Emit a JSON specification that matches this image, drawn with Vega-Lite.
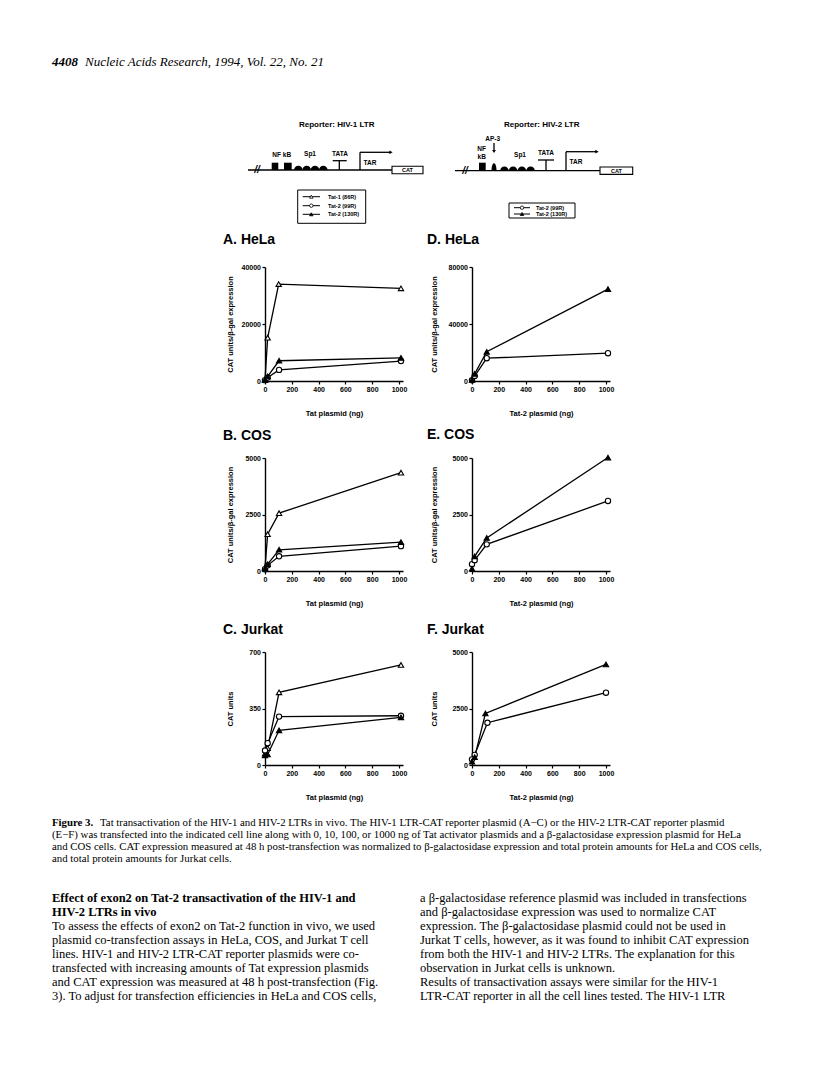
{
 "$schema": "https://vega.github.io/schema/vega-lite/v6.json",
 "background": "white",
 "padding": {"left": 52, "top": 0, "right": 0, "bottom": 0},
 "bounds": "flush",
 "spacing": 0,
 "config": {
  "view": {"stroke": null},
  "axis": {"grid": false, "domainColor": "black", "domainWidth": 1.4, "tickColor": "black", "tickWidth": 1.2, "tickSize": 3,
   "labelFont": "Liberation Sans", "labelFontWeight": "bold", "labelFontSize": 7, "labelColor": "black", "labelPadding": 1.5,
   "labelFlush": false, "labelOverlap": false, "format": "d",
   "titleFont": "Liberation Sans", "titleFontWeight": "bold", "titleFontSize": 7.5, "titleColor": "black"},
  "title": {"font": "Liberation Sans", "fontWeight": "bold", "fontSize": 14, "color": "black", "anchor": "start", "frame": "group", "baseline": "alphabetic"}
 },
 "datasets": {
  "pts": [
   {"panel":"A","series":"Tat-1 (86R)","ng":0,"val":500},{"panel":"A","series":"Tat-1 (86R)","ng":20,"val":15200},{"panel":"A","series":"Tat-1 (86R)","ng":102,"val":34000},{"panel":"A","series":"Tat-1 (86R)","ng":1015,"val":32500},
   {"panel":"A","series":"Tat-2 (99R)","ng":0,"val":300},{"panel":"A","series":"Tat-2 (99R)","ng":20,"val":1200},{"panel":"A","series":"Tat-2 (99R)","ng":105,"val":3900},{"panel":"A","series":"Tat-2 (99R)","ng":1015,"val":7000},
   {"panel":"A","series":"Tat-2 (130R)","ng":0,"val":400},{"panel":"A","series":"Tat-2 (130R)","ng":20,"val":1600},{"panel":"A","series":"Tat-2 (130R)","ng":105,"val":7100},{"panel":"A","series":"Tat-2 (130R)","ng":1015,"val":8100},
   {"panel":"B","series":"Tat-1 (86R)","ng":0,"val":150},{"panel":"B","series":"Tat-1 (86R)","ng":20,"val":1630},{"panel":"B","series":"Tat-1 (86R)","ng":105,"val":2560},{"panel":"B","series":"Tat-1 (86R)","ng":1015,"val":4350},
   {"panel":"B","series":"Tat-2 (99R)","ng":0,"val":80},{"panel":"B","series":"Tat-2 (99R)","ng":20,"val":250},{"panel":"B","series":"Tat-2 (99R)","ng":105,"val":650},{"panel":"B","series":"Tat-2 (99R)","ng":1015,"val":1100},
   {"panel":"B","series":"Tat-2 (130R)","ng":0,"val":100},{"panel":"B","series":"Tat-2 (130R)","ng":20,"val":300},{"panel":"B","series":"Tat-2 (130R)","ng":105,"val":940},{"panel":"B","series":"Tat-2 (130R)","ng":1015,"val":1280},
   {"panel":"C","series":"Tat-1 (86R)","ng":0,"val":70},{"panel":"C","series":"Tat-1 (86R)","ng":20,"val":105},{"panel":"C","series":"Tat-1 (86R)","ng":105,"val":450},{"panel":"C","series":"Tat-1 (86R)","ng":1015,"val":620},
   {"panel":"C","series":"Tat-2 (99R)","ng":0,"val":90},{"panel":"C","series":"Tat-2 (99R)","ng":20,"val":135},{"panel":"C","series":"Tat-2 (99R)","ng":105,"val":300},{"panel":"C","series":"Tat-2 (99R)","ng":1015,"val":305},
   {"panel":"C","series":"Tat-2 (130R)","ng":0,"val":60},{"panel":"C","series":"Tat-2 (130R)","ng":20,"val":65},{"panel":"C","series":"Tat-2 (130R)","ng":105,"val":215},{"panel":"C","series":"Tat-2 (130R)","ng":1015,"val":295},
   {"panel":"D","series":"Tat-2 (99R)","ng":0,"val":500},{"panel":"D","series":"Tat-2 (99R)","ng":20,"val":3500},{"panel":"D","series":"Tat-2 (99R)","ng":110,"val":16000},{"panel":"D","series":"Tat-2 (99R)","ng":1015,"val":19500},
   {"panel":"D","series":"Tat-2 (130R)","ng":0,"val":800},{"panel":"D","series":"Tat-2 (130R)","ng":20,"val":5000},{"panel":"D","series":"Tat-2 (130R)","ng":110,"val":20500},{"panel":"D","series":"Tat-2 (130R)","ng":1015,"val":64500},
   {"panel":"E","series":"Tat-2 (99R)","ng":0,"val":300},{"panel":"E","series":"Tat-2 (99R)","ng":20,"val":480},{"panel":"E","series":"Tat-2 (99R)","ng":110,"val":1180},{"panel":"E","series":"Tat-2 (99R)","ng":1015,"val":3100},
   {"panel":"E","series":"Tat-2 (130R)","ng":0,"val":100},{"panel":"E","series":"Tat-2 (130R)","ng":20,"val":650},{"panel":"E","series":"Tat-2 (130R)","ng":110,"val":1460},{"panel":"E","series":"Tat-2 (130R)","ng":1015,"val":5020},
   {"panel":"F","series":"Tat-2 (99R)","ng":0,"val":250},{"panel":"F","series":"Tat-2 (99R)","ng":20,"val":450},{"panel":"F","series":"Tat-2 (99R)","ng":115,"val":1870},{"panel":"F","series":"Tat-2 (99R)","ng":1000,"val":3200},
   {"panel":"F","series":"Tat-2 (130R)","ng":0,"val":150},{"panel":"F","series":"Tat-2 (130R)","ng":20,"val":350},{"panel":"F","series":"Tat-2 (130R)","ng":100,"val":2280},{"panel":"F","series":"Tat-2 (130R)","ng":1000,"val":4450}
  ],
  "topText": [
   {"kind":"page","x":0,"y":62,"text":"4408"},
   {"kind":"journal","x":33,"y":62,"text":"Nucleic Acids Research, 1994, Vol. 22, No. 21"},
   {"kind":"head","x":284.7,"y":125,"text":"Reporter:  HIV-1  LTR"},
   {"kind":"head","x":489.7,"y":125,"text":"Reporter:  HIV-2  LTR"},
   {"kind":"el","x":229.7,"y":155,"text":"NF kB"},
   {"kind":"el","x":258,"y":154,"text":"Sp1"},
   {"kind":"el","x":288,"y":154,"text":"TATA"},
   {"kind":"el","x":318,"y":162.7,"text":"TAR"},
   {"kind":"el","x":429.7,"y":149,"text":"NF"},
   {"kind":"el","x":429.7,"y":156.7,"text":"kB"},
   {"kind":"el","x":440.7,"y":139.3,"text":"AP-3"},
   {"kind":"el","x":468,"y":155,"text":"Sp1"},
   {"kind":"el","x":494,"y":152.7,"text":"TATA"},
   {"kind":"el","x":524,"y":161.7,"text":"TAR"},
   {"kind":"brk","x":205,"y":170,"text":"//"},
   {"kind":"brk","x":413,"y":170.7,"text":"//"},
   {"kind":"cat","x":355.5,"y":170,"text":"CAT"},
   {"kind":"cat","x":564.4,"y":170.7,"text":"CAT"}
  ],
  "topRules": [
   {"x":196,"x2":340,"y":170,"y2":170},
   {"x":287.3,"x2":287.3,"y":160.7,"y2":170},
   {"x":280.7,"x2":294.7,"y":160.7,"y2":160.7},
   {"x":308,"x2":308,"y":152.3,"y2":170},
   {"x":308,"x2":338,"y":152.3,"y2":152.3},
   {"x":403,"x2":548,"y":170.7,"y2":170.7},
   {"x":494,"x2":494,"y":160,"y2":170.7},
   {"x":486,"x2":502,"y":160,"y2":160},
   {"x":514,"x2":514,"y":151.7,"y2":170.7},
   {"x":514,"x2":544,"y":151.7,"y2":151.7},
   {"x":442,"x2":442,"y":143,"y2":150}
  ],
  "topBoxes": [
   {"kind":"nfkb","x":219.7,"x2":226.3,"y":162.7,"y2":170},
   {"kind":"nfkb","x":232,"x2":239.7,"y":162.7,"y2":170},
   {"kind":"nfkb","x":427,"x2":433.7,"y":162.7,"y2":170.7},
   {"kind":"cat","x":340,"x2":371,"y":166.3,"y2":173.7},
   {"kind":"cat","x":548,"x2":580.7,"y":167,"y2":174.4},
   {"kind":"legend","x":245.7,"x2":313.7,"y":190,"y2":223.3},
   {"kind":"legend","x":457,"x2":523,"y":203,"y2":218}
  ],
  "bumps": [
   {"kind":"sp1","x":246.3,"y":170},{"kind":"sp1","x":254.7,"y":170},{"kind":"sp1","x":263,"y":170},{"kind":"sp1","x":271.3,"y":170},
   {"kind":"sp1","x":452.4,"y":170.7},{"kind":"sp1","x":461.1,"y":170.7},{"kind":"sp1","x":469.9,"y":170.7},{"kind":"sp1","x":478.6,"y":170.7},
   {"kind":"ap3","x":442,"y":170.7}
  ],
  "arrows": [
   {"dir":"right","x":339,"y":152.3},{"dir":"right","x":545,"y":151.7},{"dir":"down","x":442,"y":151.5}
  ],
  "leg": [
   {"series":"Tat-1 (86R)","x":250.7,"x2":268,"xs":259.3,"xt":276,"y":196.7},
   {"series":"Tat-2 (99R)","x":250.7,"x2":268,"xs":259.3,"xt":276,"y":205.7},
   {"series":"Tat-2 (130R)","x":250.7,"x2":268,"xs":259.3,"xt":276,"y":214.3},
   {"series":"Tat-2 (99R)","x":462,"x2":478,"xs":470,"xt":484,"y":207.7},
   {"series":"Tat-2 (130R)","x":462,"x2":478,"xs":470,"xt":484,"y":214}
  ],
  "caption": [
   {"col":"left","line":1,"part":"label","text":"Figure 3."},
   {"col":"left","line":1,"part":"first","text":"Tat transactivation of the HIV-1 and HIV-2 LTRs in vivo. The HIV-1 LTR-CAT reporter plasmid (A−C) or the HIV-2 LTR-CAT reporter plasmid"},
   {"col":"left","line":2,"part":"cont","text":"(E−F) was transfected into the indicated cell line along with 0, 10, 100, or 1000 ng of Tat activator plasmids and a β-galactosidase expression plasmid for HeLa"},
   {"col":"left","line":3,"part":"cont","text":"and COS cells. CAT expression measured at 48 h post-transfection was normalized to β-galactosidase expression and total protein amounts for HeLa and COS cells,"},
   {"col":"left","line":4,"part":"cont","text":"and total protein amounts for Jurkat cells."}
  ],
  "body": [
   {"col":"left","line":1,"kind":"head","text":"Effect of exon2 on Tat-2 transactivation of the HIV-1 and"},
   {"col":"left","line":2,"kind":"head","text":"HIV-2 LTRs in vivo"},
   {"col":"left","line":3,"kind":"body","text":"To assess the effects of exon2 on Tat-2 function in vivo, we used"},
   {"col":"left","line":4,"kind":"body","text":"plasmid co-transfection assays in HeLa, COS, and Jurkat T cell"},
   {"col":"left","line":5,"kind":"body","text":"lines. HIV-1 and HIV-2 LTR-CAT reporter plasmids were co-"},
   {"col":"left","line":6,"kind":"body","text":"transfected with increasing amounts of Tat expression plasmids"},
   {"col":"left","line":7,"kind":"body","text":"and CAT expression was measured at 48 h post-transfection (Fig."},
   {"col":"left","line":8,"kind":"body","text":"3). To adjust for transfection efficiencies in HeLa and COS cells,"},
   {"col":"right","line":1,"kind":"body","text":"a β-galactosidase reference plasmid was included in transfections"},
   {"col":"right","line":2,"kind":"body","text":"and β-galactosidase expression was used to normalize CAT"},
   {"col":"right","line":3,"kind":"body","text":"expression. The β-galactosidase plasmid could not be used in"},
   {"col":"right","line":4,"kind":"body","text":"Jurkat T cells, however, as it was found to inhibit CAT expression"},
   {"col":"right","line":5,"kind":"body","text":"from both the HIV-1 and HIV-2 LTRs. The explanation for this"},
   {"col":"right","line":6,"kind":"body","text":"observation in Jurkat cells is unknown."},
   {"col":"right","line":7,"kind":"body","text":"\u2003Results of transactivation assays were similar for the HIV-1"},
   {"col":"right","line":8,"kind":"body","text":"LTR-CAT reporter in all the cell lines tested. The HIV-1 LTR"}
  ]
 },
 "vconcat": [
  {
   "width": 712, "height": 267,
   "encoding": {
    "x": {"field": "x", "type": "quantitative", "scale": {"domain": [0, 712], "nice": false, "zero": false}, "axis": null},
    "y": {"field": "y", "type": "quantitative", "scale": {"domain": [0, 267], "nice": false, "zero": false, "reverse": true}, "axis": null}
   },
   "layer": [
    {"data": {"name": "topText"}, "transform": [{"filter": "datum.kind === 'page'"}],
     "mark": {"type": "text", "align": "left", "baseline": "middle", "font": "Liberation Serif", "fontSize": 13, "fontWeight": "bold", "fontStyle": "italic", "color": "black"},
     "encoding": {"text": {"field": "text"}}},
    {"data": {"name": "topText"}, "transform": [{"filter": "datum.kind === 'journal'"}],
     "mark": {"type": "text", "align": "left", "baseline": "middle", "font": "Liberation Serif", "fontSize": 13, "fontStyle": "italic", "color": "black"},
     "encoding": {"text": {"field": "text"}}},
    {"data": {"name": "topText"}, "transform": [{"filter": "datum.kind === 'head'"}],
     "mark": {"type": "text", "align": "center", "baseline": "middle", "font": "Liberation Sans", "fontSize": 8, "fontWeight": "bold", "color": "black"},
     "encoding": {"text": {"field": "text"}}},
    {"data": {"name": "topText"}, "transform": [{"filter": "datum.kind === 'el'"}],
     "mark": {"type": "text", "align": "center", "baseline": "middle", "font": "Liberation Sans", "fontSize": 6.5, "fontWeight": "bold", "color": "black"},
     "encoding": {"text": {"field": "text"}}},
    {"data": {"name": "topText"}, "transform": [{"filter": "datum.kind === 'brk'"}],
     "mark": {"type": "text", "align": "center", "baseline": "middle", "font": "Liberation Sans", "fontSize": 10, "fontWeight": "bold", "fontStyle": "italic", "color": "black"},
     "encoding": {"text": {"field": "text"}}},
    {"data": {"name": "topRules"},
     "mark": {"type": "rule", "color": "black", "strokeWidth": 1.3},
     "encoding": {"x2": {"field": "x2"}, "y2": {"field": "y2"}}},
    {"data": {"name": "topBoxes"}, "transform": [{"filter": "datum.kind === 'nfkb'"}],
     "mark": {"type": "rect", "color": "black"},
     "encoding": {"x2": {"field": "x2"}, "y2": {"field": "y2"}}},
    {"data": {"name": "topBoxes"}, "transform": [{"filter": "datum.kind === 'cat'"}],
     "mark": {"type": "rect", "fill": "white", "stroke": "black", "strokeWidth": 1.1},
     "encoding": {"x2": {"field": "x2"}, "y2": {"field": "y2"}}},
    {"data": {"name": "topBoxes"}, "transform": [{"filter": "datum.kind === 'legend'"}],
     "mark": {"type": "rect", "fill": "white", "fillOpacity": 0, "stroke": "black", "strokeWidth": 1},
     "encoding": {"x2": {"field": "x2"}, "y2": {"field": "y2"}}},
    {"data": {"name": "topText"}, "transform": [{"filter": "datum.kind === 'cat'"}],
     "mark": {"type": "text", "align": "center", "baseline": "middle", "font": "Liberation Sans", "fontSize": 5.5, "fontWeight": "bold", "color": "black"},
     "encoding": {"text": {"field": "text"}}},
    {"data": {"name": "bumps"}, "transform": [{"filter": "datum.kind === 'sp1'"}],
     "mark": {"type": "point", "filled": true, "color": "black", "opacity": 1, "size": 72, "shape": "M -1 0 A 1 1 0 0 1 1 0 Z"}},
    {"data": {"name": "bumps"}, "transform": [{"filter": "datum.kind === 'ap3'"}],
     "mark": {"type": "point", "filled": true, "color": "black", "opacity": 1, "size": 25, "shape": "M -1 0 C -1 -4 1 -4 1 0 Z"}},
    {"data": {"name": "arrows"}, "transform": [{"filter": "datum.dir === 'right'"}],
     "mark": {"type": "point", "filled": true, "color": "black", "opacity": 1, "size": 14, "shape": "triangle-right"}},
    {"data": {"name": "arrows"}, "transform": [{"filter": "datum.dir === 'down'"}],
     "mark": {"type": "point", "filled": true, "color": "black", "opacity": 1, "size": 14, "shape": "triangle-down"}},
    {"data": {"name": "leg"},
     "mark": {"type": "rule", "color": "black", "strokeWidth": 1},
     "encoding": {"x2": {"field": "x2"}}},
    {"data": {"name": "leg"},
     "mark": {"type": "point", "filled": true, "stroke": "black", "strokeWidth": 0.8, "size": 12, "opacity": 1},
     "encoding": {
      "x": {"field": "xs", "type": "quantitative", "scale": {"domain": [0, 712], "nice": false, "zero": false}, "axis": null},
      "shape": {"field": "series", "type": "nominal", "scale": {"domain": ["Tat-1 (86R)", "Tat-2 (99R)", "Tat-2 (130R)"], "range": ["triangle-up", "circle", "triangle-up"]}, "legend": null},
      "fill": {"field": "series", "type": "nominal", "scale": {"domain": ["Tat-1 (86R)", "Tat-2 (99R)", "Tat-2 (130R)"], "range": ["white", "white", "black"]}, "legend": null}}},
    {"data": {"name": "leg"},
     "mark": {"type": "text", "align": "left", "baseline": "middle", "font": "Liberation Sans", "fontSize": 5.5, "fontWeight": "bold", "color": "black"},
     "encoding": {
      "x": {"field": "xt", "type": "quantitative", "scale": {"domain": [0, 712], "nice": false, "zero": false}, "axis": null},
      "text": {"field": "series"}}}
   ]
  },
  {
   "hconcat": [
    {"width": 213, "height": 114, "data": {"values": [{}]}, "mark": "text", "encoding": {"text": {"value": ""}}},
    {
     "width": 138, "height": 114, "data": {"name": "pts"}, "transform": [{"filter": "datum.panel === 'A'"}],
     "title": {"text": "A. HeLa", "dx": -42, "offset": 16},
     "encoding": {
      "x": {"field": "ng", "type": "quantitative", "scale": {"domain": [0, 1030], "nice": false, "zero": false}, "axis": {"values": [0, 200, 400, 600, 800, 1000], "title": "Tat plasmid (ng)", "titleY": 32, "titleBaseline": "middle"}},
      "y": {"field": "val", "type": "quantitative", "scale": {"domain": [0, 40000], "nice": false}, "axis": {"values": [0, 20000, 40000], "title": "CAT units/β-gal expression", "titleX": -35, "titleY": 57, "titleBaseline": "middle", "titleAngle": -90}}
     },
     "layer": [
      {"mark": {"type": "line", "color": "black", "strokeWidth": 1.3}, "encoding": {"detail": {"field": "series", "type": "nominal"}}},
      {"mark": {"type": "point", "filled": true, "stroke": "black", "strokeWidth": 1.1, "size": 28, "opacity": 1},
       "encoding": {
        "shape": {"field": "series", "type": "nominal", "scale": {"domain": ["Tat-1 (86R)", "Tat-2 (99R)", "Tat-2 (130R)"], "range": ["triangle-up", "circle", "triangle-up"]}, "legend": null},
        "fill": {"field": "series", "type": "nominal", "scale": {"domain": ["Tat-1 (86R)", "Tat-2 (99R)", "Tat-2 (130R)"], "range": ["white", "white", "black"]}, "legend": null}}}
     ]
    },
    {"width": 69, "height": 114, "data": {"values": [{}]}, "mark": "text", "encoding": {"text": {"value": ""}}},
    {
     "width": 138, "height": 114, "data": {"name": "pts"}, "transform": [{"filter": "datum.panel === 'D'"}],
     "title": {"text": "D. HeLa", "dx": -45, "offset": 16},
     "encoding": {
      "x": {"field": "ng", "type": "quantitative", "scale": {"domain": [0, 1030], "nice": false, "zero": false}, "axis": {"values": [0, 200, 400, 600, 800, 1000], "title": "Tat-2 plasmid (ng)", "titleY": 32, "titleBaseline": "middle"}},
      "y": {"field": "val", "type": "quantitative", "scale": {"domain": [0, 80000], "nice": false}, "axis": {"values": [0, 40000, 80000], "title": "CAT units/β-gal expression", "titleX": -38, "titleY": 57, "titleBaseline": "middle", "titleAngle": -90}}
     },
     "layer": [
      {"mark": {"type": "line", "color": "black", "strokeWidth": 1.3}, "encoding": {"detail": {"field": "series", "type": "nominal"}}},
      {"mark": {"type": "point", "filled": true, "stroke": "black", "strokeWidth": 1.1, "size": 28, "opacity": 1},
       "encoding": {
        "shape": {"field": "series", "type": "nominal", "scale": {"domain": ["Tat-1 (86R)", "Tat-2 (99R)", "Tat-2 (130R)"], "range": ["triangle-up", "circle", "triangle-up"]}, "legend": null},
        "fill": {"field": "series", "type": "nominal", "scale": {"domain": ["Tat-1 (86R)", "Tat-2 (99R)", "Tat-2 (130R)"], "range": ["white", "white", "black"]}, "legend": null}}}
     ]
    }
   ],
   "spacing": 0, "bounds": "flush"
  },
  {"width": 1, "height": 191, "data": {"values": [{}]}, "mark": "text", "encoding": {"text": {"value": ""}}},
  {
   "hconcat": [
    {"width": 213, "height": 113, "data": {"values": [{}]}, "mark": "text", "encoding": {"text": {"value": ""}}},
    {
     "width": 138, "height": 113, "data": {"name": "pts"}, "transform": [{"filter": "datum.panel === 'B'"}],
     "title": {"text": "B. COS", "dx": -42, "offset": 11},
     "encoding": {
      "x": {"field": "ng", "type": "quantitative", "scale": {"domain": [0, 1030], "nice": false, "zero": false}, "axis": {"values": [0, 200, 400, 600, 800, 1000], "title": "Tat plasmid (ng)", "titleY": 32, "titleBaseline": "middle"}},
      "y": {"field": "val", "type": "quantitative", "scale": {"domain": [0, 5000], "nice": false}, "axis": {"values": [0, 2500, 5000], "title": "CAT units/β-gal expression", "titleX": -35, "titleY": 56.5, "titleBaseline": "middle", "titleAngle": -90}}
     },
     "layer": [
      {"mark": {"type": "line", "color": "black", "strokeWidth": 1.3}, "encoding": {"detail": {"field": "series", "type": "nominal"}}},
      {"mark": {"type": "point", "filled": true, "stroke": "black", "strokeWidth": 1.1, "size": 28, "opacity": 1},
       "encoding": {
        "shape": {"field": "series", "type": "nominal", "scale": {"domain": ["Tat-1 (86R)", "Tat-2 (99R)", "Tat-2 (130R)"], "range": ["triangle-up", "circle", "triangle-up"]}, "legend": null},
        "fill": {"field": "series", "type": "nominal", "scale": {"domain": ["Tat-1 (86R)", "Tat-2 (99R)", "Tat-2 (130R)"], "range": ["white", "white", "black"]}, "legend": null}}}
     ]
    },
    {"width": 69, "height": 113, "data": {"values": [{}]}, "mark": "text", "encoding": {"text": {"value": ""}}},
    {
     "width": 138, "height": 113, "data": {"name": "pts"}, "transform": [{"filter": "datum.panel === 'E'"}],
     "title": {"text": "E. COS", "dx": -45, "offset": 11},
     "encoding": {
      "x": {"field": "ng", "type": "quantitative", "scale": {"domain": [0, 1030], "nice": false, "zero": false}, "axis": {"values": [0, 200, 400, 600, 800, 1000], "title": "Tat-2 plasmid (ng)", "titleY": 32, "titleBaseline": "middle"}},
      "y": {"field": "val", "type": "quantitative", "scale": {"domain": [0, 5000], "nice": false}, "axis": {"values": [0, 2500, 5000], "title": "CAT units/β-gal expression", "titleX": -38, "titleY": 56.5, "titleBaseline": "middle", "titleAngle": -90}}
     },
     "layer": [
      {"mark": {"type": "line", "color": "black", "strokeWidth": 1.3}, "encoding": {"detail": {"field": "series", "type": "nominal"}}},
      {"mark": {"type": "point", "filled": true, "stroke": "black", "strokeWidth": 1.1, "size": 28, "opacity": 1},
       "encoding": {
        "shape": {"field": "series", "type": "nominal", "scale": {"domain": ["Tat-1 (86R)", "Tat-2 (99R)", "Tat-2 (130R)"], "range": ["triangle-up", "circle", "triangle-up"]}, "legend": null},
        "fill": {"field": "series", "type": "nominal", "scale": {"domain": ["Tat-1 (86R)", "Tat-2 (99R)", "Tat-2 (130R)"], "range": ["white", "white", "black"]}, "legend": null}}}
     ]
    }
   ],
   "spacing": 0, "bounds": "flush"
  },
  {"width": 1, "height": 194, "data": {"values": [{}]}, "mark": "text", "encoding": {"text": {"value": ""}}},
  {
   "hconcat": [
    {"width": 213, "height": 113, "data": {"values": [{}]}, "mark": "text", "encoding": {"text": {"value": ""}}},
    {
     "width": 138, "height": 113, "data": {"name": "pts"}, "transform": [{"filter": "datum.panel === 'C'"}],
     "title": {"text": "C. Jurkat", "dx": -42, "offset": 11},
     "encoding": {
      "x": {"field": "ng", "type": "quantitative", "scale": {"domain": [0, 1030], "nice": false, "zero": false}, "axis": {"values": [0, 200, 400, 600, 800, 1000], "title": "Tat plasmid (ng)", "titleY": 32, "titleBaseline": "middle"}},
      "y": {"field": "val", "type": "quantitative", "scale": {"domain": [0, 700], "nice": false}, "axis": {"values": [0, 350, 700], "title": "CAT units", "titleX": -35, "titleY": 56.5, "titleBaseline": "middle", "titleAngle": -90}}
     },
     "layer": [
      {"mark": {"type": "line", "color": "black", "strokeWidth": 1.3}, "encoding": {"detail": {"field": "series", "type": "nominal"}}},
      {"mark": {"type": "point", "filled": true, "stroke": "black", "strokeWidth": 1.1, "size": 28, "opacity": 1},
       "encoding": {
        "shape": {"field": "series", "type": "nominal", "scale": {"domain": ["Tat-1 (86R)", "Tat-2 (99R)", "Tat-2 (130R)"], "range": ["triangle-up", "circle", "triangle-up"]}, "legend": null},
        "fill": {"field": "series", "type": "nominal", "scale": {"domain": ["Tat-1 (86R)", "Tat-2 (99R)", "Tat-2 (130R)"], "range": ["white", "white", "black"]}, "legend": null}}}
     ]
    },
    {"width": 69, "height": 113, "data": {"values": [{}]}, "mark": "text", "encoding": {"text": {"value": ""}}},
    {
     "width": 138, "height": 113, "data": {"name": "pts"}, "transform": [{"filter": "datum.panel === 'F'"}],
     "title": {"text": "F. Jurkat", "dx": -45, "offset": 11},
     "encoding": {
      "x": {"field": "ng", "type": "quantitative", "scale": {"domain": [0, 1030], "nice": false, "zero": false}, "axis": {"values": [0, 200, 400, 600, 800, 1000], "title": "Tat-2 plasmid (ng)", "titleY": 32, "titleBaseline": "middle"}},
      "y": {"field": "val", "type": "quantitative", "scale": {"domain": [0, 5000], "nice": false}, "axis": {"values": [0, 2500, 5000], "title": "CAT units", "titleX": -38, "titleY": 56.5, "titleBaseline": "middle", "titleAngle": -90}}
     },
     "layer": [
      {"mark": {"type": "line", "color": "black", "strokeWidth": 1.3}, "encoding": {"detail": {"field": "series", "type": "nominal"}}},
      {"mark": {"type": "point", "filled": true, "stroke": "black", "strokeWidth": 1.1, "size": 28, "opacity": 1},
       "encoding": {
        "shape": {"field": "series", "type": "nominal", "scale": {"domain": ["Tat-1 (86R)", "Tat-2 (99R)", "Tat-2 (130R)"], "range": ["triangle-up", "circle", "triangle-up"]}, "legend": null},
        "fill": {"field": "series", "type": "nominal", "scale": {"domain": ["Tat-1 (86R)", "Tat-2 (99R)", "Tat-2 (130R)"], "range": ["white", "white", "black"]}, "legend": null}}}
     ]
    }
   ],
   "spacing": 0, "bounds": "flush"
  },
  {"width": 1, "height": 163, "data": {"values": [{}]}, "mark": "text", "encoding": {"text": {"value": ""}}},
  {
   "width": 712, "height": 65, "data": {"name": "caption"},
   "encoding": {
    "x": {"field": "col", "type": "nominal", "scale": {"type": "point", "domain": ["left", "right"], "range": [0, 368], "padding": 0}, "axis": null},
    "y": {"field": "line", "type": "quantitative", "scale": {"domain": [1, 4], "range": [8, 44], "nice": false, "zero": false}, "axis": null},
    "text": {"field": "text"}
   },
   "layer": [
    {"transform": [{"filter": "datum.part === 'label'"}], "mark": {"type": "text", "align": "left", "baseline": "middle", "font": "Liberation Serif", "fontSize": 10.8, "fontWeight": "bold", "color": "black"}},
    {"transform": [{"filter": "datum.part === 'first'"}], "mark": {"type": "text", "align": "left", "baseline": "middle", "dx": 48, "font": "Liberation Serif", "fontSize": 10.8, "color": "black"}},
    {"transform": [{"filter": "datum.part === 'cont'"}], "mark": {"type": "text", "align": "left", "baseline": "middle", "font": "Liberation Serif", "fontSize": 10.8, "color": "black"}}
   ]
  },
  {
   "width": 712, "height": 203, "data": {"name": "body"},
   "encoding": {
    "x": {"field": "col", "type": "nominal", "scale": {"type": "point", "domain": ["left", "right"], "range": [0, 368], "padding": 0}, "axis": null},
    "y": {"field": "line", "type": "quantitative", "scale": {"domain": [1, 8], "range": [18, 116], "nice": false, "zero": false}, "axis": null},
    "text": {"field": "text"}
   },
   "layer": [
    {"transform": [{"filter": "datum.kind === 'head'"}], "mark": {"type": "text", "align": "left", "baseline": "middle", "font": "Liberation Serif", "fontSize": 12.5, "fontWeight": "bold", "color": "black"}},
    {"transform": [{"filter": "datum.kind === 'body'"}], "mark": {"type": "text", "align": "left", "baseline": "middle", "font": "Liberation Serif", "fontSize": 12.5, "color": "black"}}
   ]
  }
 ]
}
